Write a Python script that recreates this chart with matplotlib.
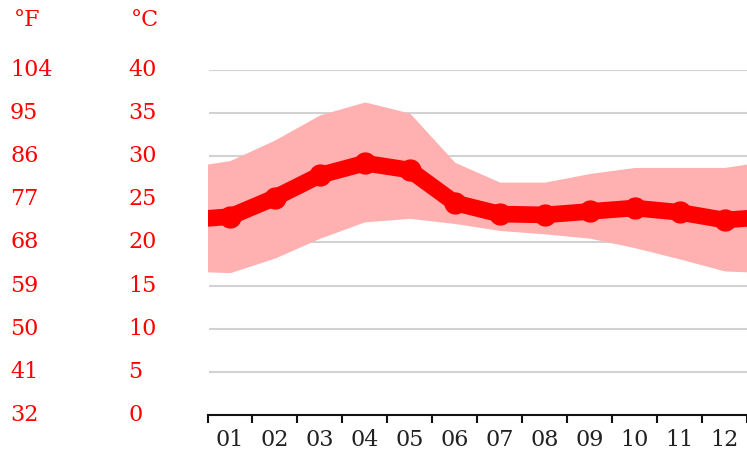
import numpy as np
import matplotlib.pyplot as plt
import matplotlib.transforms as mtransforms

# data (deg C)
months = ["01", "02", "03", "04", "05", "06", "07", "08", "09", "10", "11", "12"]
t_mean = [23.0, 25.2, 27.8, 29.2, 28.4, 24.6, 23.3, 23.2, 23.6, 24.0, 23.5, 22.6]
t_max = [29.5, 31.9, 34.8, 36.3, 35.0, 29.3, 27.0, 27.0, 28.0, 28.7, 28.7, 28.7]
t_min = [16.5, 18.2, 20.5, 22.4, 22.8, 22.2, 21.4, 21.0, 20.5, 19.4, 18.1, 16.7]
c_ticks = [0, 5, 10, 15, 20, 25, 30, 35, 40]
f_ticks = [32, 41, 50, 59, 68, 77, 86, 95, 104]

red = "#ff0000"
band = "#ffb1b1"
fs = 16

# wrap Dec before Jan and Jan after Dec so the curves run to the edges
x = np.arange(-0.5, 13.0, 1.0)
def wrap(v):
    return [v[-1]] + list(v) + [v[0]]

fig = plt.figure(figsize=(7.47, 4.5), dpi=100)
ax = fig.add_axes([207.5 / 747, 35 / 450, 1 - 207.5 / 747, 345 / 450])
ax.set_xlim(0, 11.9)
ax.set_ylim(0, 40)

for c in c_ticks[1:]:
    ax.axhline(c, xmin=0.005, color="#d2d2d2", lw=1.5, zorder=0)

ax.fill_between(x, wrap(t_min), wrap(t_max), color=band, lw=0, zorder=1)
ax.plot(x, wrap(t_mean), color=red, lw=12, marker="o", ms=15,
        solid_capstyle="round", solid_joinstyle="round", zorder=2)

for s in ["top", "right", "left"]:
    ax.spines[s].set_visible(False)
ax.spines["bottom"].set_color("#111111")
ax.spines["bottom"].set_linewidth(1.5)
ax.set_yticks([])
ax.set_xticks(np.arange(12) + 0.5)
ax.set_xticklabels(months, family="DejaVu Serif", fontsize=fs, color="#222222")
ax.tick_params(axis="x", which="major", length=0, pad=10)
ax.set_xticks(np.arange(13), minor=True)
ax.tick_params(axis="x", which="minor", length=6, width=1.5, color="#111111")

# temperature scales on the left
tr = mtransforms.blended_transform_factory(fig.transFigure, ax.transData)
for c, f in zip(c_ticks, f_ticks):
    ax.text(10 / 747, c, str(f), transform=tr, ha="left", va="center",
            family="DejaVu Serif", fontsize=fs, color=red, clip_on=False)
    ax.text(128 / 747, c, str(c), transform=tr, ha="left", va="center",
            family="DejaVu Serif", fontsize=fs, color=red, clip_on=False)
fig.text(14 / 747, 1 - 20 / 450, "°F", ha="left", va="center",
         family="DejaVu Serif", fontsize=fs, color=red)
fig.text(131 / 747, 1 - 20 / 450, "°C", ha="left", va="center",
         family="DejaVu Serif", fontsize=fs, color=red)

fig.savefig("out.png", dpi=100)
